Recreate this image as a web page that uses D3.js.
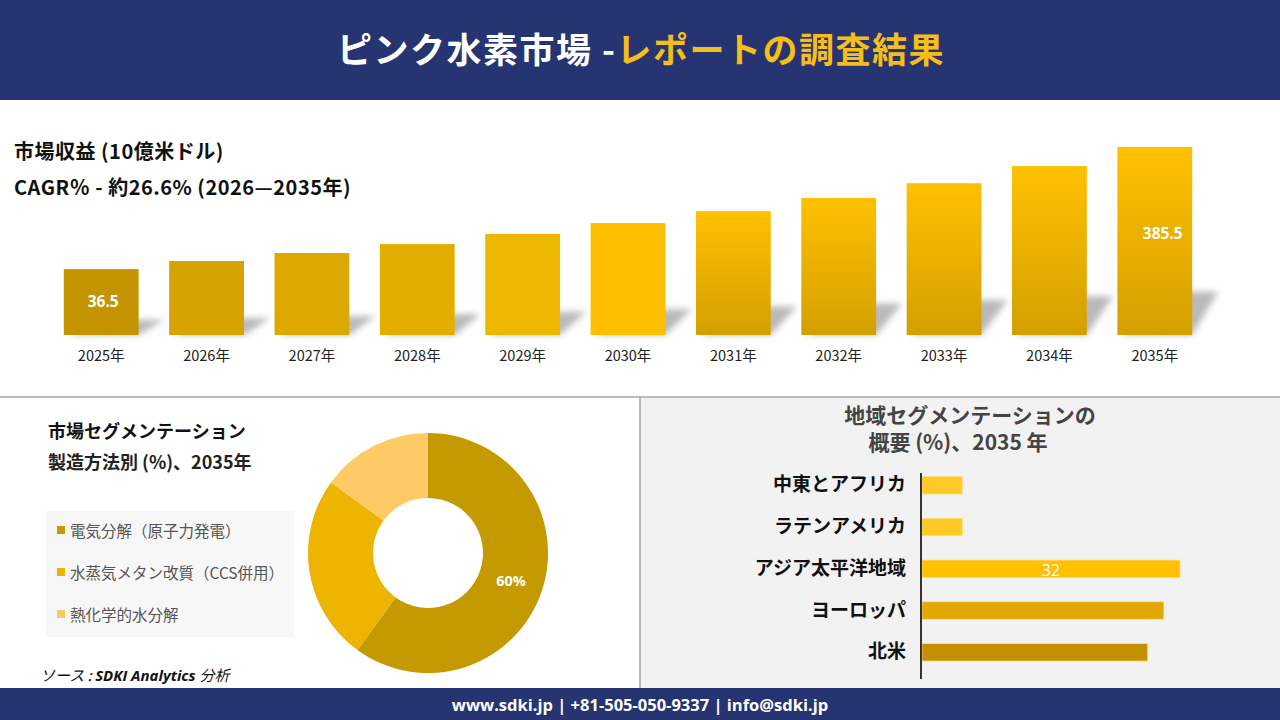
<!DOCTYPE html>
<html>
<head>
<meta charset="utf-8">
<script src="https://cdn.jsdelivr.net/npm/d3@7"></script>
<style>
  body { margin: 0; background: #fff; }
  svg { display: block; font-family: "Noto Sans CJK JP", "Noto Sans", sans-serif; }
</style>
</head>
<body>
<script>
// revenue chart data
var years = ['2025年', '2026年', '2027年', '2028年', '2029年', '2030年', '2031年', '2032年', '2033年', '2034年', '2035年'];
var revenue = [36.5, 59.5, 82.4, 108, 137, 168, 202, 240, 282, 331, 385.5];
var revenueLabels = ['36.5', '', '', '', '', '', '', '', '', '', '385.5'];

// donut data
var methods = ['電気分解（原子力発電）', '水蒸気メタン改質（CCS併用）', '熱化学的水分解'];
var methodShare = [60, 25, 15];

// regional data
var regions = ['中東とアフリカ', 'ラテンアメリカ', 'アジア太平洋地域', 'ヨーロッパ', '北米'];
var regionShare = [5, 5, 32, 30, 28];

var width = 1280, height = 720;

var svg = d3.select('body')
  .append('svg')
  .attr('width', width)
  .attr('height', height);

var defs = svg.append('defs');
defs.append('filter').attr('id', 'blur')
  .attr('x', '-50%').attr('y', '-50%').attr('width', '200%').attr('height', '200%')
  .append('feGaussianBlur').attr('stdDeviation', 3);

var grad = defs.append('linearGradient').attr('id', 'barGrad')
  .attr('x1', 0).attr('y1', 0).attr('x2', 0).attr('y2', 1);
grad.append('stop').attr('offset', '0%').attr('stop-color', '#FFC000');
grad.append('stop').attr('offset', '100%').attr('stop-color', '#D4A000');

// header
svg.append('rect').attr('width', width).attr('height', 100).attr('fill', '#263472');
var title = svg.append('text')
  .attr('x', 641).attr('y', 63)
  .attr('text-anchor', 'middle')
  .style('font-size', '35px').style('font-weight', 'bold')
  .style('letter-spacing', '1.5px');
title.append('tspan').attr('fill', '#fff').text('ピンク水素市場 -');
title.append('tspan').attr('fill', '#F6BE1A').text('レポートの調査結果');

// bottom right panel background and divider lines
svg.append('rect').attr('x', 640).attr('y', 397).attr('width', 640).attr('height', 291).attr('fill', '#f2f2f2');
svg.append('line').attr('x1', 0).attr('x2', width).attr('y1', 397).attr('y2', 397)
  .attr('stroke', '#a6a6a6').attr('stroke-width', 1.5);
svg.append('line').attr('x1', 640).attr('x2', 640).attr('y1', 397).attr('y2', 688)
  .attr('stroke', '#a6a6a6').attr('stroke-width', 1.5);

// footer
svg.append('rect').attr('y', 688).attr('width', width).attr('height', 32).attr('fill', '#263472');
svg.append('text').attr('x', 640).attr('y', 711)
  .attr('text-anchor', 'middle').attr('fill', '#fff')
  .style('font-family', '"Open Sans", sans-serif')
  .style('font-size', '16.5px').style('font-weight', 'bold')
  .text('www.sdki.jp | +81-505-050-9337 | info@sdki.jp');

//Top chart titles
svg.append('text').attr('x', 14).attr('y', 159)
  .style('font-size', '20px').style('font-weight', 'bold').attr('fill', '#111')
  .style('letter-spacing', '0.5px')
  .text('市場収益 (10億米ドル)');
svg.append('text').attr('x', 14).attr('y', 195)
  .style('font-size', '20px').style('font-weight', 'bold').attr('fill', '#111')
  .style('letter-spacing', '0.5px')
  .text('CAGR％ - 約26.6% (2026—2035年)');

// Revenue scales
var base = 335;
var xScale = d3.scaleBand()
  .domain(years)
  .range([48, 1208])
  .paddingInner(0.29)
  .paddingOuter(0.15);

var yScale = d3.scaleLinear()
  .domain([-152, 385.5])
  .range([base, 147]);

var barFills = ['#C49500', '#D6A300', '#DDA900', '#E4AE00', '#EFB800', '#FDC000'];

var barG = svg.append('g');

// shadows: sheared copy of each bar, leaning right
barG.selectAll('.shadow')
  .data(revenue)
  .enter()
  .append('polygon')
  .attr('points', function(d, i) {
    var x0 = xScale(years[i]) + 6;
    var x1 = xScale(years[i]) + xScale.bandwidth();
    var sh = (base - yScale(d)) * 0.23;
    var dx = 26;
    return [[x0, base], [x1, base], [x1 + dx, base - sh], [x0 + dx, base - sh]].join(' ');
  })
  .attr('fill', '#a8a8a8')
  .attr('opacity', 0.8)
  .attr('filter', 'url(#blur)');

barG.selectAll('.bar')
  .data(revenue)
  .enter()
  .append('rect')
  .attr('x', function(d, i) { return xScale(years[i]); })
  .attr('y', function(d) { return yScale(d); })
  .attr('width', xScale.bandwidth())
  .attr('height', function(d) { return base - yScale(d); })
  .attr('fill', function(d, i) { return i < barFills.length ? barFills[i] : 'url(#barGrad)'; });

barG.selectAll('.val')
  .data(revenue)
  .enter()
  .append('text')
  .attr('x', function(d, i) { return xScale(years[i]) + xScale.bandwidth() / 2 + (i === 0 ? 2 : 8); })
  .attr('y', function(d, i) { return i === 0 ? 307 : 239; })
  .attr('text-anchor', 'middle')
  .attr('fill', '#fff')
  .style('font-family', '"Open Sans", sans-serif')
  .style('font-size', '15.5px').style('font-weight', 'bold')
  .text(function(d, i) { return revenueLabels[i]; });

var xAxis = svg.append('g')
  .attr('transform', 'translate(0,' + base + ')')
  .call(d3.axisBottom(xScale).tickSize(0).tickPadding(16));
xAxis.select('.domain').remove();
xAxis.selectAll('text')
  .style('font-family', '"Noto Sans CJK JP", sans-serif')
  .style('font-size', '14.5px').attr('fill', '#222');

// Segmentation panel
svg.append('text').attr('x', 48).attr('y', 438)
  .style('font-size', '18px').style('font-weight', 'bold').attr('fill', '#111')
  .text('市場セグメンテーション');
svg.append('text').attr('x', 48).attr('y', 469)
  .style('font-size', '18px').style('font-weight', 'bold').attr('fill', '#222')
  .text('製造方法別 (%)、2035年');

var methodColors = ['#C49A00', '#EDB400', '#FFC966'];

svg.append('rect').attr('x', 46).attr('y', 511).attr('width', 248).attr('height', 126).attr('fill', '#f7f7f7');
var legend = svg.append('g').selectAll('g')
  .data(methods)
  .enter()
  .append('g')
  .attr('transform', function(d, i) { return 'translate(57,' + (531 + i * 42) + ')'; });
legend.append('rect').attr('y', -5).attr('width', 8).attr('height', 8)
  .attr('fill', function(d, i) { return methodColors[i]; });
legend.append('text').attr('x', 13).attr('y', 5.5)
  .style('font-size', '15.5px').attr('fill', '#555')
  .text(function(d) { return d; });

var pie = d3.pie().sort(null);
var arc = d3.arc().innerRadius(55).outerRadius(120);
var donut = svg.append('g').attr('transform', 'translate(428,553)');
donut.selectAll('path')
  .data(pie(methodShare))
  .enter()
  .append('path')
  .attr('d', arc)
  .attr('fill', function(d, i) { return methodColors[i]; });
donut.append('text')
  .attr('x', 83).attr('y', 33)
  .attr('text-anchor', 'middle').attr('fill', '#fff')
  .style('font-family', '"Open Sans", sans-serif')
  .style('font-size', '14.5px').style('font-weight', 'bold')
  .text(methodShare[0] + '%');

var src = svg.append('text').attr('x', 40).attr('y', 681)
  .style('font-size', '15px').style('font-style', 'italic').attr('fill', '#111');
src.append('tspan').text('ソース : ');
src.append('tspan').style('font-weight', 'bold').style('font-family', '"Open Sans", sans-serif').text('SDKI Analytics ');
src.append('tspan').text('分析');

// Regional panel
svg.append('text').attr('x', 970).attr('y', 423)
  .attr('text-anchor', 'middle')
  .style('font-size', '21px').style('font-weight', 'bold').attr('fill', '#444')
  .text('地域セグメンテーションの');
svg.append('text').attr('x', 958).attr('y', 450)
  .attr('text-anchor', 'middle')
  .style('font-size', '21px').style('font-weight', 'bold').attr('fill', '#444')
  .text('概要 (%)、2035 年');

var regionColors = ['#FFC926', '#FFC926', '#FFC000', '#E0A800', '#C49000'];

var rx = d3.scaleLinear().domain([0, 32]).range([922, 1180]);
var ry = d3.scaleBand().domain(regions).range([464, 673.6])
  .paddingInner(0.58).paddingOuter(0.3);

svg.append('g').selectAll('rect')
  .data(regionShare)
  .enter()
  .append('rect')
  .attr('x', rx(0))
  .attr('y', function(d, i) { return ry(regions[i]); })
  .attr('width', function(d) { return rx(d) - rx(0); })
  .attr('height', ry.bandwidth())
  .attr('fill', function(d, i) { return regionColors[i]; })
  .attr('stroke', '#FFE08A').attr('stroke-width', 0.8);

svg.append('text')
  .attr('x', (rx(0) + rx(32)) / 2)
  .attr('y', ry(regions[2]) + ry.bandwidth() / 2 + 7)
  .attr('text-anchor', 'middle').attr('fill', '#fff')
  .style('font-family', '"Open Sans", sans-serif')
  .style('font-size', '16px')
  .text(regionShare[2]);

var yAxis = svg.append('g')
  .attr('transform', 'translate(921,0)')
  .call(d3.axisLeft(ry).tickSize(0).tickPadding(15));
yAxis.select('.domain').attr('d', 'M0,473V679').attr('stroke', '#333').attr('stroke-width', 2);
yAxis.selectAll('text')
  .style('font-family', '"Noto Sans CJK JP", sans-serif')
  .style('font-size', '19px').style('font-weight', 'bold').attr('fill', '#111');
</script>
</body>
</html>
